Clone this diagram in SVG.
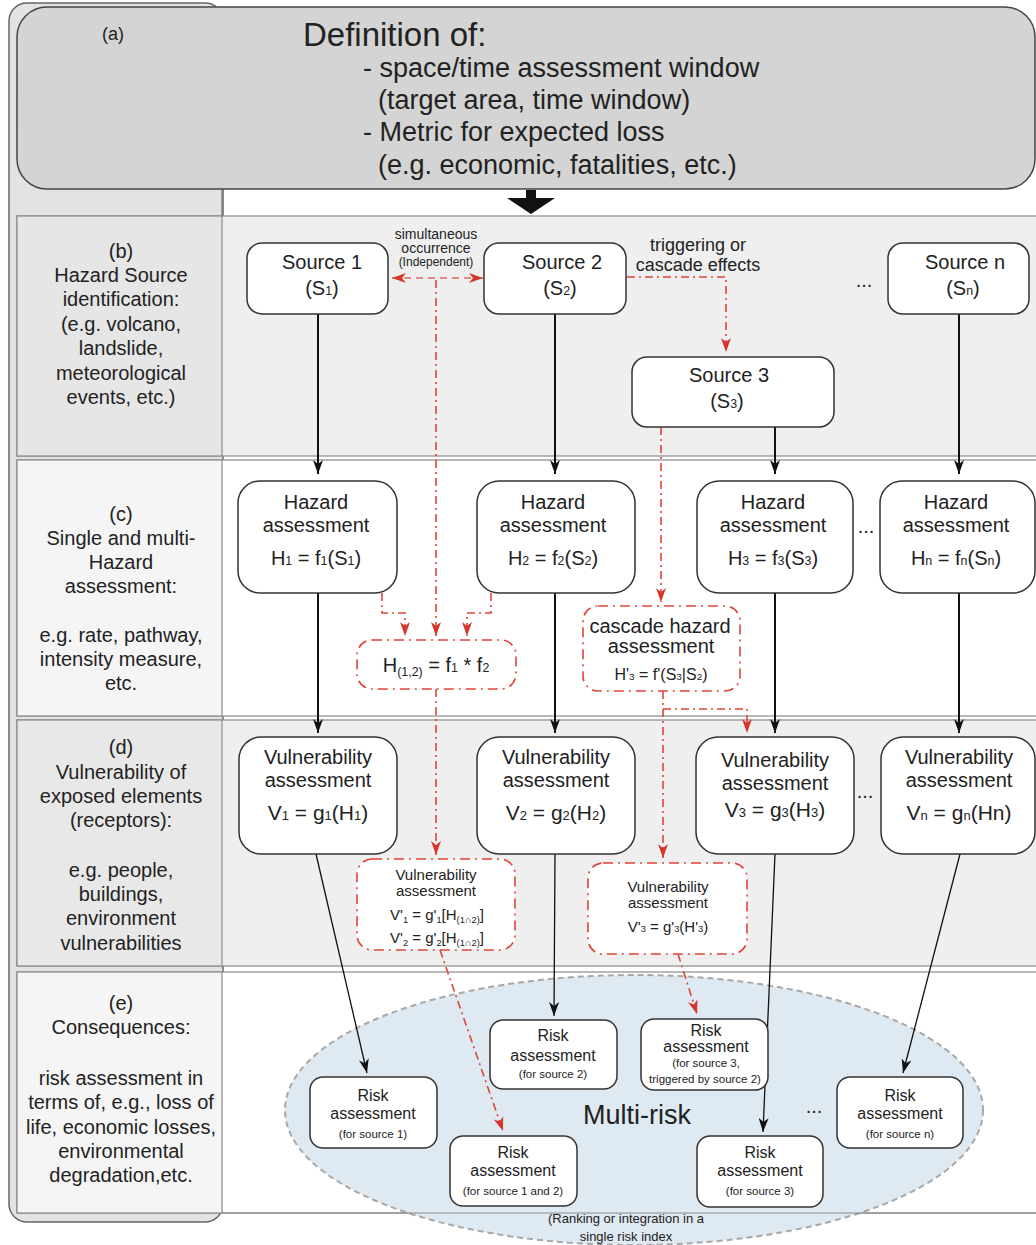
<svg xmlns="http://www.w3.org/2000/svg" width="1036" height="1245" viewBox="0 0 1036 1245">
<defs>
<style>
text{font-family:"Liberation Sans",Arial,Helvetica,sans-serif;fill:#222;}
.lab{font-size:20px;text-anchor:middle}
.node{fill:#fff;stroke:#333;stroke-width:1.5}
.dnode{fill:#fff;stroke:#e0443a;stroke-width:1.6;stroke-dasharray:10 5 2 5}
.t20{font-size:20px;text-anchor:middle}
.t21{font-size:21px;text-anchor:middle}
.t16{font-size:16px;text-anchor:middle}
.t15{font-size:15px;text-anchor:middle}
.t12{font-size:11.5px;text-anchor:middle}
.s{font-size:0.62em}
.hd{font-size:27px}
.blk{stroke:#111;stroke-width:2;fill:none;marker-end:url(#ab)}
.thin{stroke:#111;stroke-width:1.3;fill:none;marker-end:url(#ab)}
.red{stroke:#e0443a;stroke-width:1.6;fill:none;stroke-dasharray:8 4 2 4;marker-end:url(#ar)}
.redd{stroke:#e88a84;stroke-width:2;fill:none;stroke-dasharray:7 5;marker-start:url(#ar2);marker-end:url(#ar2)}
.row{stroke:#8a8a8a;stroke-width:1.2}
</style>
<marker id="ab" markerUnits="userSpaceOnUse" markerWidth="14" markerHeight="10" refX="14" refY="5" orient="auto" viewBox="0 0 14 10">
<path d="M0,0 L14,5 L0,10 L4,5 z" fill="#111"/>
</marker>
<marker id="ar" markerUnits="userSpaceOnUse" markerWidth="14" markerHeight="10" refX="14" refY="5" orient="auto" viewBox="0 0 14 10">
<path d="M0,0 L14,5 L0,10 L4,5 z" fill="#d8352a"/>
</marker>
<marker id="ar2" markerUnits="userSpaceOnUse" markerWidth="14" markerHeight="10" refX="14" refY="5" orient="auto-start-reverse" viewBox="0 0 14 10">
<path d="M0,0 L14,5 L0,10 L4,5 z" fill="#d8352a"/>
</marker>
</defs>

<rect x="0" y="0" width="1036" height="1245" fill="#fff"/>

<g id="frame">
<rect x="9" y="3" width="214" height="1219" rx="18" fill="#e3e3e3" stroke="#666" stroke-width="1.5"/>
<line x1="222" y1="189" x2="222" y2="216" stroke="#777" stroke-width="1.2"/>
</g>

<g id="header">
<rect x="17" y="7" width="1018" height="182" rx="30" fill="#d3d4d3" stroke="#444" stroke-width="1.5"/>
<text x="113" y="40" font-size="18" text-anchor="middle">(a)</text>
<text x="303" y="46" font-size="33">Definition of:</text>
<text x="363" y="77" class="hd">- space/time assessment window</text>
<text x="378" y="109" class="hd">(target area, time window)</text>
<text x="363" y="141" class="hd">- Metric for expected loss</text>
<text x="378" y="174" class="hd">(e.g. economic, fatalities, etc.)</text>
<path d="M526,190 H536 V198 H555 L531,214 L507,198 H526 Z" fill="#111"/>
</g>

<g id="rows">
<rect x="17" y="216" width="1030" height="240" fill="#efefef" class="row"/>
<rect x="17" y="216" width="205" height="240" fill="#e6e6e6" class="row"/>
<rect x="17" y="460" width="1030" height="256" fill="#ffffff" class="row"/>
<rect x="17" y="460" width="205" height="256" fill="#f5f5f5" class="row"/>
<rect x="17" y="720" width="1030" height="246" fill="#efefef" class="row"/>
<rect x="17" y="720" width="205" height="246" fill="#e8e8e8" class="row"/>
<rect x="17" y="972" width="1030" height="241" fill="#ffffff" class="row"/>
<rect x="17" y="972" width="205" height="241" fill="#f5f5f5" class="row"/>
</g>

<g id="row-labels">
<text class="lab"><tspan x="121" y="258">(b)</tspan><tspan x="121" y="282">Hazard Source</tspan><tspan x="121" y="306">identification:</tspan><tspan x="121" y="331">(e.g. volcano,</tspan><tspan x="121" y="355">landslide,</tspan><tspan x="121" y="380">meteorological</tspan><tspan x="121" y="404">events, etc.)</tspan></text>
<text class="lab"><tspan x="121" y="521">(c)</tspan><tspan x="121" y="545">Single and multi-</tspan><tspan x="121" y="569">Hazard</tspan><tspan x="121" y="593">assessment:</tspan><tspan x="121" y="642">e.g. rate, pathway,</tspan><tspan x="121" y="666">intensity measure,</tspan><tspan x="121" y="690">etc.</tspan></text>
<text class="lab"><tspan x="121" y="754">(d)</tspan><tspan x="121" y="779">Vulnerability of</tspan><tspan x="121" y="803">exposed elements</tspan><tspan x="121" y="827">(receptors):</tspan><tspan x="121" y="877">e.g. people,</tspan><tspan x="121" y="901">buildings,</tspan><tspan x="121" y="925">environment</tspan><tspan x="121" y="950">vulnerabilities</tspan></text>
<text class="lab"><tspan x="121" y="1010">(e)</tspan><tspan x="121" y="1034">Consequences:</tspan><tspan x="121" y="1085">risk assessment in</tspan><tspan x="121" y="1109">terms of, e.g., loss of</tspan><tspan x="121" y="1134">life, economic losses,</tspan><tspan x="121" y="1158">environmental</tspan><tspan x="121" y="1182">degradation,etc.</tspan></text>
</g>

<g id="multirisk">
<ellipse cx="634" cy="1110" rx="349" ry="135" fill="#dfe9f1" stroke="#a8a8a8" stroke-width="2" stroke-dasharray="6 4"/>
<line x1="222" y1="1213" x2="1036" y2="1213" stroke="#8a8a8a" stroke-width="1.2"/>
<text x="637" y="1124" font-size="27" text-anchor="middle">Multi-risk</text>
<text x="626" y="1223" font-size="13" text-anchor="middle">(Ranking or integration in a</text>
<text x="626" y="1241" font-size="13" text-anchor="middle">single risk index</text>
</g>

<g id="annotations">
<text x="436" y="239" font-size="14" text-anchor="middle">simultaneous</text>
<text x="436" y="253" font-size="14" text-anchor="middle">occurrence</text>
<text x="436" y="266" font-size="12" text-anchor="middle">(Independent)</text>
<text x="698" y="251" font-size="18" text-anchor="middle">triggering or</text>
<text x="698" y="271" font-size="18" text-anchor="middle">cascade effects</text>
<text x="864" y="287" font-size="20" text-anchor="middle">...</text>
<text x="866" y="533" font-size="20" text-anchor="middle">...</text>
<text x="865" y="798" font-size="20" text-anchor="middle">...</text>
<text x="814" y="1113" font-size="20" text-anchor="middle">...</text>
</g>

<g id="connectors">
<line x1="318" y1="314" x2="318" y2="474" class="blk"/>
<line x1="555" y1="314" x2="555" y2="474" class="blk"/>
<line x1="775" y1="427" x2="775" y2="474" class="blk"/>
<line x1="959" y1="314" x2="959" y2="474" class="blk"/>
<line x1="318" y1="593" x2="318" y2="733" class="blk"/>
<line x1="555" y1="593" x2="555" y2="733" class="blk"/>
<line x1="775" y1="593" x2="775" y2="733" class="blk"/>
<line x1="959" y1="593" x2="959" y2="733" class="blk"/>
<line x1="316" y1="854" x2="367" y2="1073" class="thin"/>
<line x1="555" y1="854" x2="554" y2="1016" class="thin"/>
<line x1="775" y1="854" x2="763" y2="1132" class="thin"/>
<line x1="960" y1="854" x2="903" y2="1073" class="thin"/>
<line x1="392" y1="278" x2="483" y2="278" class="redd"/>
<path d="M436,280 V636" class="red"/>
<path d="M382,593 V613 H405 V636" class="red"/>
<path d="M491,593 V613 H467 V636" class="red"/>
<path d="M627,277 H726 V352" class="red"/>
<path d="M661,427 V602" class="red"/>
<path d="M436,689 V855" class="red"/>
<path d="M663,709 H747 V733" class="red"/>
<path d="M663,691 V858" class="red"/>
<path d="M440,950 L503,1131" class="red"/>
<path d="M678,954 L697,1014" class="red"/>
</g>

<g id="source1">
<rect x="247" y="243" width="141" height="71" rx="15" class="node"/>
<text x="322" y="269" class="t20">Source 1</text>
<text x="322" y="295" class="t20">(S<tspan class="s">1</tspan>)</text>
</g>
<g id="source2">
<rect x="484" y="243" width="142" height="71" rx="15" class="node"/>
<text x="562" y="269" class="t20">Source 2</text>
<text x="560" y="295" class="t20">(S<tspan class="s">2</tspan>)</text>
</g>
<g id="source3">
<rect x="632" y="357" width="202" height="70" rx="15" class="node"/>
<text x="729" y="382" class="t20">Source 3</text>
<text x="727" y="408" class="t20">(S<tspan class="s">3</tspan>)</text>
</g>
<g id="sourcen">
<rect x="888" y="243" width="141" height="71" rx="15" class="node"/>
<text x="965" y="269" class="t20">Source n</text>
<text x="963" y="295" class="t20">(S<tspan class="s">n</tspan>)</text>
</g>

<g id="hazard1">
<rect x="238" y="481" width="159" height="112" rx="22" class="node"/>
<text x="316" y="509" class="t20">Hazard</text>
<text x="316" y="532" class="t20">assessment</text>
<text x="316" y="565" class="t20">H<tspan class="s">1</tspan> = f<tspan class="s">1</tspan>(S<tspan class="s">1</tspan>)</text>
</g>
<g id="hazard2">
<rect x="477" y="481" width="158" height="112" rx="22" class="node"/>
<text x="553" y="509" class="t20">Hazard</text>
<text x="553" y="532" class="t20">assessment</text>
<text x="553" y="565" class="t20">H<tspan class="s">2</tspan> = f<tspan class="s">2</tspan>(S<tspan class="s">2</tspan>)</text>
</g>
<g id="hazard3">
<rect x="697" y="481" width="156" height="112" rx="22" class="node"/>
<text x="773" y="509" class="t20">Hazard</text>
<text x="773" y="532" class="t20">assessment</text>
<text x="773" y="565" class="t20">H<tspan class="s">3</tspan> = f<tspan class="s">3</tspan>(S<tspan class="s">3</tspan>)</text>
</g>
<g id="hazardn">
<rect x="880" y="481" width="155" height="112" rx="22" class="node"/>
<text x="956" y="509" class="t20">Hazard</text>
<text x="956" y="532" class="t20">assessment</text>
<text x="956" y="565" class="t20">H<tspan class="s">n</tspan> = f<tspan class="s">n</tspan>(S<tspan class="s">n</tspan>)</text>
</g>
<g id="hazard12">
<rect x="357" y="640" width="159" height="49" rx="15" class="dnode"/>
<text x="436" y="672" class="t20">H<tspan class="s" dy="4">(1,2)</tspan><tspan dy="-4"> = f</tspan><tspan class="s">1</tspan> * f<tspan class="s">2</tspan></text>
</g>
<g id="cascade">
<rect x="583" y="606" width="157" height="85" rx="15" class="dnode"/>
<text x="660" y="633" class="t20">cascade hazard</text>
<text x="661" y="653" class="t20">assessment</text>
<text x="661" y="680" class="t16">H'<tspan class="s">3</tspan> = f'(S<tspan class="s">3</tspan>|S<tspan class="s">2</tspan>)</text>
</g>

<g id="vuln1">
<rect x="239" y="737" width="158" height="117" rx="22" class="node"/>
<text x="318" y="764" class="t20">Vulnerability</text>
<text x="318" y="787" class="t20">assessment</text>
<text x="318" y="820" class="t21">V<tspan class="s">1</tspan> = g<tspan class="s">1</tspan>(H<tspan class="s">1</tspan>)</text>
</g>
<g id="vuln2">
<rect x="477" y="737" width="158" height="117" rx="22" class="node"/>
<text x="556" y="764" class="t20">Vulnerability</text>
<text x="556" y="787" class="t20">assessment</text>
<text x="556" y="820" class="t21">V<tspan class="s">2</tspan> = g<tspan class="s">2</tspan>(H<tspan class="s">2</tspan>)</text>
</g>
<g id="vuln3">
<rect x="696" y="737" width="158" height="117" rx="22" class="node"/>
<text x="775" y="767" class="t20">Vulnerability</text>
<text x="775" y="790" class="t20">assessment</text>
<text x="775" y="817" class="t21">V<tspan class="s">3</tspan> = g<tspan class="s">3</tspan>(H<tspan class="s">3</tspan>)</text>
</g>
<g id="vulnn">
<rect x="881" y="737" width="154" height="117" rx="22" class="node"/>
<text x="959" y="764" class="t20">Vulnerability</text>
<text x="959" y="787" class="t20">assessment</text>
<text x="959" y="820" class="t21">V<tspan class="s">n</tspan> = g<tspan class="s">n</tspan>(Hn)</text>
</g>
<g id="vuln12">
<rect x="357" y="859" width="158" height="91" rx="15" class="dnode"/>
<text x="436" y="880" class="t15">Vulnerability</text>
<text x="436" y="896" class="t15">assessment</text>
<text x="437" y="920" class="t15">V'<tspan class="s" dy="3">1</tspan><tspan dy="-3"> = g'</tspan><tspan class="s" dy="3">1</tspan><tspan dy="-3">[H</tspan><tspan class="s" dy="3">(1∩2)</tspan><tspan dy="-3">]</tspan></text>
<text x="437" y="943" class="t15">V'<tspan class="s" dy="3">2</tspan><tspan dy="-3"> = g'</tspan><tspan class="s" dy="3">2</tspan><tspan dy="-3">[H</tspan><tspan class="s" dy="3">(1∩2)</tspan><tspan dy="-3">]</tspan></text>
</g>
<g id="vuln3p">
<rect x="588" y="863" width="159" height="91" rx="15" class="dnode"/>
<text x="668" y="892" class="t15">Vulnerability</text>
<text x="668" y="908" class="t15">assessment</text>
<text x="668" y="932" class="t15">V'<tspan class="s">3</tspan> = g'<tspan class="s">3</tspan>(H'<tspan class="s">3</tspan>)</text>
</g>

<g id="risk1">
<rect x="310" y="1077" width="127" height="71" rx="13" class="node"/>
<text x="373" y="1101" class="t16">Risk</text>
<text x="373" y="1119" class="t16">assessment</text>
<text x="373" y="1138" class="t12">(for source 1)</text>
</g>
<g id="risk12">
<rect x="450" y="1136" width="127" height="70" rx="13" class="node"/>
<text x="513" y="1158" class="t16">Risk</text>
<text x="513" y="1176" class="t16">assessment</text>
<text x="513" y="1195" class="t12">(for source 1 and 2)</text>
</g>
<g id="risk2">
<rect x="490" y="1020" width="127" height="69" rx="13" class="node"/>
<text x="553" y="1041" class="t16">Risk</text>
<text x="553" y="1061" class="t16">assessment</text>
<text x="553" y="1078" class="t12">(for source 2)</text>
</g>
<g id="risk3t">
<rect x="641" y="1019" width="127" height="71" rx="13" class="node"/>
<text x="706" y="1036" class="t16">Risk</text>
<text x="706" y="1052" class="t16">assessment</text>
<text x="706" y="1067" class="t12">(for source 3,</text>
<text x="705" y="1083" class="t12">triggered by source 2)</text>
</g>
<g id="risk3">
<rect x="697" y="1136" width="126" height="71" rx="13" class="node"/>
<text x="760" y="1158" class="t16">Risk</text>
<text x="760" y="1176" class="t16">assessment</text>
<text x="760" y="1195" class="t12">(for source 3)</text>
</g>
<g id="riskn">
<rect x="837" y="1077" width="126" height="71" rx="13" class="node"/>
<text x="900" y="1101" class="t16">Risk</text>
<text x="900" y="1119" class="t16">assessment</text>
<text x="900" y="1138" class="t12">(for source n)</text>
</g>
</svg>
